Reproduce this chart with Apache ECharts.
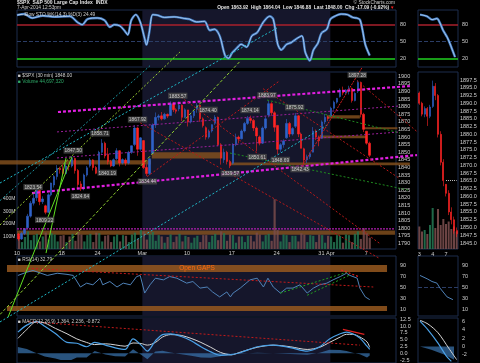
<!DOCTYPE html>
<html><head><meta charset="utf-8">
<script src="https://cdn.jsdelivr.net/npm/echarts@6/dist/echarts.min.js"></script>
<style>html,body{margin:0;padding:0;background:#000;}#c{width:480px;height:363px;}</style>
</head><body><div id="c"></div><script>
// ================= DATA =================
const tickDays  = [0, 5, 9, 14, 19, 24, 29, 34, 35, 39];
const tickTexts = ['10','18','24','Mar','10','17','24','31','Apr','7'];
const monthShade = [14, 35];               // March (trading-day index)

// 30-min-ish bars, 3 per trading day: [open, close, low, high]
const candles = [
[1796.2,1793.0,1791.8,1797.0],[1793.0,1796.5,1792.3,1797.5],[1796.5,1799.8,1795.5,1799.9],
[1800.4,1808.0,1799.6,1809.5],[1808.0,1816.5,1807.0,1818.0],[1816.5,1819.8,1815.0,1823.5],
[1820.1,1825.0,1818.0,1826.1],[1825.0,1817.5,1815.2,1825.5],[1817.5,1819.3,1816.0,1821.0],
[1814.8,1810.5,1809.2,1815.5],[1810.5,1822.0,1810.0,1823.0],[1822.0,1829.8,1821.0,1830.0],
[1828.5,1834.0,1826.8,1835.0],[1834.0,1839.5,1832.0,1841.6],[1839.5,1838.6,1836.0,1840.5],
[1839.0,1836.0,1835.0,1842.0],[1836.0,1841.0,1835.5,1842.9],[1841.0,1840.8,1838.0,1842.0],
[1841.0,1846.0,1840.0,1847.5],[1846.0,1838.0,1836.0,1846.5],[1838.0,1828.8,1826.5,1839.0],
[1829.2,1826.0,1824.6,1831.0],[1826.0,1835.0,1825.0,1836.0],[1835.0,1839.8,1834.0,1841.0],
[1841.1,1845.0,1840.0,1846.1],[1845.0,1840.0,1838.0,1845.5],[1840.0,1836.2,1835.6,1841.0],
[1836.8,1850.0,1836.6,1851.0],[1850.0,1856.0,1849.0,1858.7],[1856.0,1847.6,1846.0,1857.0],
[1848.7,1844.0,1842.0,1852.9],[1844.0,1841.0,1840.2,1845.0],[1841.0,1845.1,1840.5,1846.0],
[1845.8,1851.0,1845.0,1852.7],[1851.0,1843.0,1840.7,1851.5],[1843.0,1845.2,1842.0,1846.0],
[1844.9,1843.0,1841.1,1846.0],[1843.0,1850.0,1842.0,1851.0],[1850.0,1854.3,1849.0,1854.5],
[1855.1,1866.0,1854.0,1867.9],[1866.0,1852.0,1847.7,1866.5],[1852.0,1859.5,1851.0,1860.0],
[1857.7,1840.0,1839.0,1858.0],[1840.0,1836.0,1834.4,1842.0],[1836.0,1845.7,1835.0,1846.0],
[1849.2,1868.0,1849.0,1869.0],[1868.0,1873.0,1866.0,1876.2],[1873.0,1873.9,1871.0,1875.0],
[1874.0,1872.0,1871.0,1876.5],[1872.0,1875.0,1871.5,1876.0],[1875.0,1873.8,1872.5,1875.5],
[1874.2,1882.0,1874.0,1883.6],[1882.0,1878.0,1876.5,1883.0],[1878.0,1877.0,1875.5,1879.0],
[1878.5,1881.0,1877.0,1883.4],[1881.0,1873.0,1870.6,1881.5],[1873.0,1878.0,1872.5,1879.0],
[1877.9,1870.0,1867.0,1877.9],[1870.0,1874.0,1869.0,1875.0],[1874.0,1877.2,1872.5,1877.6],
[1878.3,1881.0,1876.0,1882.4],[1881.0,1872.0,1870.0,1881.5],[1872.0,1867.6,1866.3,1873.0],
[1866.2,1860.0,1858.3,1867.0],[1860.0,1864.0,1859.0,1865.0],[1864.0,1868.2,1863.0,1868.4],
[1869.1,1873.0,1868.0,1874.4],[1873.0,1855.0,1854.0,1873.5],[1855.0,1846.3,1841.9,1856.0],
[1845.1,1850.0,1843.0,1852.4],[1850.0,1844.0,1842.0,1851.0],[1844.0,1841.1,1839.6,1845.0],
[1842.8,1855.0,1842.0,1856.0],[1855.0,1860.0,1854.0,1862.3],[1860.0,1858.8,1856.0,1861.0],
[1858.9,1864.0,1858.5,1865.0],[1864.0,1869.0,1863.0,1870.0],[1869.0,1872.3,1868.0,1873.8],
[1872.3,1871.0,1869.0,1874.1],[1871.0,1866.0,1864.0,1872.0],[1866.0,1860.8,1850.6,1867.0],
[1860.1,1856.0,1854.6,1861.0],[1856.0,1866.0,1855.5,1867.0],[1866.0,1872.0,1865.0,1873.5],
[1874.5,1882.0,1873.0,1884.0],[1882.0,1876.0,1874.0,1883.0],[1876.0,1866.5,1863.5,1877.0],
[1867.7,1852.0,1848.7,1868.0],[1852.0,1855.0,1850.0,1856.0],[1855.0,1857.4,1853.0,1858.5],
[1859.5,1869.0,1858.9,1871.9],[1869.0,1862.0,1860.0,1870.0],[1862.0,1865.6,1861.0,1866.5],
[1867.1,1874.0,1866.0,1875.9],[1874.0,1862.0,1860.0,1874.5],[1862.0,1852.6,1852.6,1863.0],
[1852.3,1845.0,1842.4,1853.0],[1845.0,1847.0,1843.0,1848.5],[1847.0,1849.0,1845.5,1850.0],
[1850.1,1864.0,1850.0,1866.6],[1864.0,1860.0,1858.0,1865.0],[1860.0,1857.6,1854.0,1861.0],
[1859.2,1870.0,1859.0,1871.0],[1870.0,1873.0,1868.5,1875.2],[1873.0,1872.3,1870.5,1874.0],
[1873.9,1879.0,1873.5,1880.0],[1879.0,1883.0,1878.0,1884.0],[1883.0,1885.5,1882.0,1885.8],
[1886.6,1891.0,1886.0,1892.0],[1891.0,1889.0,1887.5,1893.2],[1889.0,1890.9,1888.0,1891.5],
[1891.4,1892.0,1888.0,1893.8],[1892.0,1884.0,1882.7,1892.5],[1884.0,1888.8,1883.5,1889.5],
[1890.2,1896.0,1889.0,1897.3],[1896.0,1875.0,1873.0,1896.5],[1875.0,1865.1,1863.3,1876.0],
[1863.9,1856.0,1855.0,1864.0],[1856.0,1848.0,1846.9,1857.0]
];
// volume per bar, millions
const volumes = [
105,55,95, 140,70,110, 120,60,100, 130,75,125, 115,60,105,
110,55,100, 120,65,135, 115,60,110, 120,55,130,
125,60,105, 110,55,100, 115,60,110, 105,55,115, 130,80,150,
140,75,120, 135,65,110, 100,50,95, 115,55,100, 120,60,105,
95,50,90, 105,55,110, 110,55,105, 120,70,140, 125,65,115,
110,50,100, 100,55,105, 105,60,130, 115,60,110, 120,65,395,
150,60,115, 110,55,105, 105,60,125, 115,55,110, 105,55,115,
110,50,105, 100,55,110, 105,50,115, 110,55,120, 140,80,165,
125,90
];
// Slow stochastic [trading day, value]
const stochPts = [[0.0,97],[0.8,99],[1.7,92],[2.9,96],[4.2,94],[5.9,95],[6.8,84],[7.3,80],[7.9,90],[9.0,92],[9.8,88],[10.4,76],[10.9,80],[11.5,78],[12.0,70],[12.4,62],[12.8,88],[13.3,98],[13.8,85],[14.3,55],[14.5,44],[14.8,65],[15.2,98],[15.7,97],[16.5,93],[17.6,94],[18.8,91],[19.3,90],[20.1,85],[21.0,86],[21.6,70],[22.1,72],[22.7,60],[23.3,25],[23.7,20],[24.1,30],[24.6,38],[25.1,45],[25.7,40],[26.3,60],[26.9,66],[27.6,85],[28.3,95],[28.7,90],[29.2,45],[29.6,35],[30.2,45],[30.7,48],[31.3,55],[31.9,60],[32.3,30],[32.8,16],[33.2,35],[33.7,47],[34.1,65],[34.7,72],[35.1,90],[35.7,96],[36.3,99],[37.0,98],[37.6,93],[38.0,92],[38.4,89],[38.7,70],[39.0,45],[39.5,25]];
// RSI(14) [trading day, value]
const rsiPts = [[0.1,71],[1.1,77],[1.8,80],[3.4,71],[4.5,75],[5.6,73],[6.3,71],[7.1,50],[7.8,57],[8.5,54],[9.3,66],[9.6,54],[10.4,60],[11.2,50],[11.9,57],[12.7,54],[13.4,69],[13.8,71],[14.3,39],[14.9,54],[15.5,66],[16.4,63],[17.1,69],[17.9,66],[19.0,57],[19.7,60],[20.5,48],[21.3,50],[21.9,41],[22.7,32],[23.5,41],[23.9,32],[24.2,39],[25.0,48],[26.1,63],[26.9,66],[27.6,50],[28.1,66],[28.7,50],[29.5,39],[30.2,48],[30.9,48],[31.7,54],[32.5,39],[33.2,48],[33.9,54],[34.7,57],[35.4,63],[36.2,69],[36.9,75],[37.3,71],[38.1,66],[38.4,48],[39.0,32],[39.5,27]];
// MACD(12,26,9)
const macdDays   = [0.1,1.1,2.2,3.1,4.3,5.6,6.7,7.8,8.7,9.9,11.0,12.1,13.0,13.9,14.6,15.5,16.3,17.2,18.4,19.5,20.6,21.7,22.8,24.0,25.0,26.9,28.7,30.6,32.5,33.9,35.0,36.2,36.9,37.6,38.4,39.2,39.5];
const macdLine   = [7.8,10.4,11.7,10.0,7.3,4.0,3.7,2.4,4.0,3.0,2.0,1.4,5.3,3.0,0.8,4.6,6.9,7.2,6.2,4.6,2.4,0.5,-0.8,-0.5,0.2,2.4,3.0,2.1,0.8,2.4,5.3,7.2,7.8,7.2,5.6,2.6,1.4];
const signalLine = [5.5,8.8,11.7,11.2,9.2,7.2,5.3,4.0,3.2,3.5,3.1,2.6,3.8,3.6,3.0,4.0,6.0,6.9,6.6,5.5,4.0,2.2,0.3,-0.6,0.4,2.2,3.0,2.4,1.4,2.2,4.0,6.0,7.0,7.0,6.0,4.2,2.2];

// Intraday mini chart (Apr 3 - Apr 7)
const miniTicks = ['3','4','7'];
const miniCandles = [
[1893.3,1890.0,1889.5,1893.8],[1890.0,1886.5,1885.8,1890.5],[1886.5,1888.3,1885.5,1889.0],[1888.3,1885.8,1882.7,1888.8],[1885.8,1888.8,1885.2,1889.5],
[1889.0,1895.5,1888.5,1897.3],[1895.5,1892.5,1891.0,1896.5],[1892.5,1880.0,1879.0,1893.0],[1880.0,1871.0,1870.0,1881.0],[1871.0,1865.1,1863.3,1872.0],
[1863.9,1861.0,1860.0,1864.0],[1861.0,1855.0,1854.0,1862.0],[1855.0,1852.5,1851.0,1856.5],[1852.5,1849.0,1848.0,1853.5],[1849.0,1848.0,1846.9,1850.0]
];
const miniVolumes = [45,35,38,30,48,82,42,80,48,60,50,55,40,45,35];
const miniPrevClose = 1865.09;
const miniStoch = [[0.75,98],[3.4,95],[5.25,89],[7.1,91],[8.25,83],[9.4,70],[10.9,58],[12,46],[13.9,22]];
const miniRsi   = [[0.75,71],[3.4,65],[5.25,60],[7.1,57],[8.25,48],[10.9,32],[13.1,27]];
const miniMacd  = [[0.75,6.1],[3.75,4.0],[7.5,0.8],[10.5,-2.2],[12.5,-3.6]];
const miniSignal= [[0.75,6.3],[3.75,5.4],[7.5,3.3],[11.5,-0.4],[14.5,-3.2]];
const miniHist  = [[0.75,0],[5,-0.8],[10,-2.0],[13.5,-3.2]];

// Annotated highs / lows: [day, price, text, a=above b=below]
const priceLabels = [
[1.8,1823.5,'1823.54','a'],[3.1,1809.2,'1809.22','b'],[6.3,1847.5,'1847.50','a'],[7.1,1824.6,'1824.64','b'],
[9.3,1858.7,'1858.71','a'],[10.1,1840.2,'1840.19','b'],[13.5,1867.9,'1867.92','a'],[14.6,1834.4,'1834.44','b'],
[18.0,1883.6,'1883.57','a'],[21.4,1874.4,'1874.40','a'],[23.9,1839.6,'1839.57','b'],[26.1,1874.1,'1874.14','a'],
[26.9,1850.6,'1850.61','b'],[28.0,1884.0,'1883.97','a'],[29.5,1848.7,'1848.69','b'],[31.1,1875.9,'1875.92','a'],
[31.7,1842.4,'1842.43','b'],[38.1,1897.3,'1897.28','a']
];
// Trend lines in (trading day, price)
const lnMagUpper  = [[4.59,1876.5],[44.0,1893.6]];
const lnMagLower  = [[1.68,1823.2],[44.8,1848.2]];
const lnMagMid1   = [[4.48,1863.4],[42.9,1880.5]];
const lnMagMid2   = [[4.48,1846.3],[42.9,1863.4]];
const lnMag1800   = [[0,1799.6],[42.33,1799.6]];
const lnLime1     = [[-1.904,1802.2],[18.25,1916.0]];
const lnLimeA     = [[-1.0,1741.6],[6.16,1847.0]];
const lnLimeB     = [[3.25,1783.7],[5.49,1846.2]];
const lnLimeC     = [[-1.904,1743.3],[24.97,1909.8]];
const lnCyan1     = [[-1.904,1829.8],[29.12,1931.8]];
const lnCyan2     = [[-1.904,1738.4],[34.72,1867.9]];
const lnCyan3     = [[-1.904,1818.2],[14.9,1907.0]];
const lnRedA      = [[13.78,1869.5],[40.65,1780.0]];
const lnRedB      = [[18.03,1887.8],[40.65,1789.9]];
const lnRedC      = [[27.55,1891.9],[42.9,1832.6]];
const lnRedD      = [[38.08,1897.2],[44.8,1863.6]];
const lnRedE      = [[14.56,1834.0],[29.45,1897.2]];
const lnRedF      = [[31.7,1838.6],[38.64,1905.7]];
const lnGreen1    = [[28.0,1884.4],[42.9,1862.7]];
const lnGreen2    = [[23.85,1849.5],[43.79,1825.2]];
// Gap zones [day1, price1, day2, price2]
const gapZones = [[-1.904,1842,15.0,1844.7],[23.85,1841.4,44.0,1843.3],[15.1,1846,23.0,1850],[34.7,1872.3,38.4,1874.3],[38.75,1865.1,42.6,1866.5],[33.9,1859.2,39.2,1861.1],[0,1795.8,42.33,1798.6]];
// RSI panel gap bands [day1, rsi1, day2, rsi2]
const rsiGapBands = [[-1.12,77.3,41.44,90],[-1.12,6.4,41.44,15.5]];
const rsiRedLine   = [[1.23,84],[39.9,50]];
const rsiGreen1    = [[29.5,39],[37.0,77]];
const rsiGreen2    = [[32.5,35],[37.3,72]];
const rsiRedShort  = [[36.3,81],[38.4,68]];
const macdRedLine  = [[1.23,11.7],[38.4,3.0]];
const macdRedShort = [[36.5,8.8],[38.9,7.0]];

// ================= LAYOUT / CHART =================
const W=480,H=363, X0=17, PW=378, NSLOT=127, SPAN=NSLOT/3, PXD=PW/SPAN;
const P_PX=1.52, P_REF=1900, Y_REF=76.3;
const FONT='"Liberation Sans", Arial, sans-serif';
const TXT='#cfcfcf', FRAME='#1d2c4c', SHADE='#15162b';
const grids=[], xA=[], yA=[], series=[];
function add(g,x,y){const i=grids.length;grids.push(g);x.gridIndex=i;y.gridIndex=i;xA.push(x);yA.push(y);return i;}
const hv=(min,max,extra)=>Object.assign({type:'value',show:false,min:min,max:max,splitLine:{show:false}},extra||{});
const lbl=(extra)=>Object.assign({color:TXT,fontSize:5.5,fontFamily:FONT},extra||{});
const slotCats=[...Array(NSLOT).keys()].map(String);

function frame(top,h,left,w,shade,xlabel){
  const gi=add({left:left,top:top,width:w,height:h,show:true,borderColor:FRAME,borderWidth:1,backgroundColor:'transparent'},
    hv(0,left===X0?SPAN:15,xlabel||{}), hv(0,1));
  series.push({type:'line',xAxisIndex:gi,yAxisIndex:gi,data:[[0,0.5]],symbol:'none',lineStyle:{width:0},silent:true,z:0,
    markArea: shade?{silent:true,itemStyle:{color:SHADE},data:[[{xAxis:monthShade[0]},{xAxis:monthShade[1]}]]}:undefined});
  return gi;
}
// --- frames
frame(10,57,X0,379,true);
frame(72,177,X0,379,true,{show:true,position:'bottom',interval:1,axisLine:{show:false},axisTick:{show:false},
   axisLabel:lbl({margin:1.5,formatter:v=>{const k=tickDays.indexOf(v);return k>=0?tickTexts[k]:'';}})});
frame(256,60,X0,379,true);
frame(318,50,X0,379,true);
frame(10,57,418,40,false);
frame(72,177,418,40,false);
frame(256,60,418,40,false);
frame(318,50,418,40,false);

// --- stochastic
const stG=add({left:X0,top:13.5,width:PW,height:56},hv(0,SPAN),
  {type:'value',position:'right',min:0,max:100,interval:10,splitLine:{show:false},axisLine:{show:false},axisTick:{show:false},
   axisLabel:lbl({margin:5,formatter:v=>(v===20||v===50||v===80)?v:''})});
const stochLines={symbol:'none',silent:true,label:{show:false},data:[
  {yAxis:80,lineStyle:{color:'#a8202c',width:1.5,type:'solid'}},
  {yAxis:50,lineStyle:{color:'#2b3d66',width:1,type:'dashed'}},
  {yAxis:20,lineStyle:{color:'#20d020',width:1.5,type:'solid'}}]};
series.push({type:'line',xAxisIndex:stG,yAxisIndex:stG,data:stochPts,symbol:'none',smooth:0.3,lineStyle:{color:'#3f78bf',width:2.4},z:5,markLine:stochLines});
series.push({type:'line',xAxisIndex:stG,yAxisIndex:stG,data:stochPts,symbol:'none',smooth:0.3,lineStyle:{color:'#cfe6ff',width:0.7},z:6});

// --- price candles
const pG=add({left:X0,top:Y_REF-5*P_PX,width:PW,height:120*P_PX},
  {type:'category',show:false,data:slotCats,boundaryGap:true},
  {type:'value',position:'right',min:1785,max:1905,interval:5,splitLine:{show:false},axisLine:{show:false},axisTick:{show:false},
   axisLabel:lbl({margin:3,formatter:v=>(v>=1790&&v<=1900)?v:''})});
series.push({type:'candlestick',xAxisIndex:pG,yAxisIndex:pG,data:candles,barWidth:2,z:4,
  itemStyle:{color:'#2f62c8',color0:'#ff2424',borderColor:'#2f62c8',borderColor0:'#ff2424',borderWidth:0.6}});

// --- volume
const vG=add({left:X0,top:189,width:PW,height:60},
  {type:'category',show:false,data:slotCats,boundaryGap:true},
  {type:'value',position:'left',min:0,max:476,interval:100,splitLine:{show:false},axisLine:{show:false},axisTick:{show:false},
   axisLabel:lbl({margin:2,fontSize:5,formatter:v=>(v>0&&v<=400)?v+'M':''})});
series.push({type:'bar',xAxisIndex:vG,yAxisIndex:vG,barWidth:2.2,z:2,
  data:volumes.map((v,i)=>({value:v,itemStyle:{color:candles[i][1]>=candles[i][0]?'rgba(35,115,80,0.85)':'rgba(120,75,75,0.85)'}}))});

// --- RSI
const rG=add({left:X0,top:259.5,width:PW,height:55},hv(0,SPAN),
  {type:'value',position:'right',min:0,max:100,interval:10,splitLine:{show:false},axisLine:{show:false},axisTick:{show:false},
   axisLabel:lbl({margin:5,formatter:v=>(v%20===10)?v:''})});
series.push({type:'line',xAxisIndex:rG,yAxisIndex:rG,data:rsiPts,symbol:'none',lineStyle:{color:'#4f82b8',width:1},z:5});
const rsiDash=(d,c,w)=>({type:'line',xAxisIndex:rG,yAxisIndex:rG,data:d,symbol:'none',silent:true,z:6,lineStyle:{color:c,width:w||1,type:[2,2]}});
series.push(rsiDash(rsiRedLine,'#c41a1a'),rsiDash(rsiGreen1,'#1fa01f'),rsiDash(rsiGreen2,'#1fa01f'),rsiDash(rsiRedShort,'#e02020',1.2));
// RSI full-width band overlay
const rbG=add({left:0,top:259.5,width:W,height:55},hv(-X0/PXD,(W-X0)/PXD),hv(0,100));
series.push({type:'line',xAxisIndex:rbG,yAxisIndex:rbG,data:[[0,50]],symbol:'none',lineStyle:{width:0},silent:true,z:1,
  markArea:{silent:true,itemStyle:{color:'rgba(150,88,30,0.85)'},
   data:rsiGapBands.map((b,i)=>[{coord:[b[0],b[1]],label:{show:i===0,position:'inside',formatter:'Open GAPS',color:'#ff6a10',fontSize:6.5,fontFamily:FONT}},{coord:[b[2],b[3]]}])}});

// --- MACD
const mG=add({left:X0,top:359.5-15*3.12,width:PW,height:17.5*3.12},hv(0,SPAN),
  {type:'value',position:'right',min:-2.5,max:15,interval:2.5,splitLine:{show:false},axisLine:{show:false},axisTick:{show:false},
   axisLabel:lbl({margin:5,formatter:v=>v<=12.5?v.toFixed(1):''})});
const histPts=macdDays.map((d,i)=>[d,+(macdLine[i]-signalLine[i]).toFixed(2)]);
series.push({type:'line',xAxisIndex:mG,yAxisIndex:mG,data:histPts,symbol:'none',lineStyle:{width:0},areaStyle:{color:'#3a76b2',origin:0},z:3});
series.push({type:'line',xAxisIndex:mG,yAxisIndex:mG,data:macdDays.map((d,i)=>[d,signalLine[i]]),symbol:'none',smooth:0.3,lineStyle:{color:'#d6d6d6',width:1},z:5});
series.push({type:'line',xAxisIndex:mG,yAxisIndex:mG,data:macdDays.map((d,i)=>[d,macdLine[i]]),symbol:'none',smooth:0.3,lineStyle:{color:'#4aa0e6',width:1.2},z:6});
series.push({type:'line',xAxisIndex:mG,yAxisIndex:mG,data:macdRedLine,symbol:'none',silent:true,z:7,lineStyle:{color:'#c41a1a',width:1,type:[2,2]}});
series.push({type:'line',xAxisIndex:mG,yAxisIndex:mG,data:macdRedShort,symbol:'none',silent:true,z:7,lineStyle:{color:'#e02020',width:1.2}});

// --- mini panels
const MINI=418, MW=40, MS=miniCandles.length;
const miniCats=[...Array(MS).keys()].map(String);
const msG=add({left:MINI,top:13.5,width:MW,height:56},hv(0,MS),
  {type:'value',position:'right',min:0,max:100,interval:10,splitLine:{show:false},axisLine:{show:false},axisTick:{show:false},
   axisLabel:lbl({margin:4,formatter:v=>(v===20||v===50||v===80)?v:''})});
series.push({type:'line',xAxisIndex:msG,yAxisIndex:msG,data:miniStoch,symbol:'none',smooth:0.3,lineStyle:{color:'#3f78bf',width:2.4},z:5,markLine:stochLines});
series.push({type:'line',xAxisIndex:msG,yAxisIndex:msG,data:miniStoch,symbol:'none',smooth:0.3,lineStyle:{color:'#cfe6ff',width:0.7},z:6});
const mpK=3.105;
const mpG=add({left:MINI,top:80-2.5*mpK,width:MW,height:57.5*mpK},
  {type:'category',data:miniCats,boundaryGap:true,axisLine:{show:false},axisTick:{show:false},
   axisLabel:lbl({margin:1,interval:0,formatter:(v,i)=>i===0?miniTicks[0]:i===5?miniTicks[1]:i===10?miniTicks[2]:''})},
  {type:'value',position:'right',min:1842.5,max:1900,interval:2.5,splitLine:{show:false},axisLine:{show:false},axisTick:{show:false},
   axisLabel:lbl({margin:2,formatter:v=>(v>=1845&&v<=1897.5)?v.toFixed(1):''})});
series.push({type:'candlestick',xAxisIndex:mpG,yAxisIndex:mpG,data:miniCandles,barWidth:1.6,z:4,
  itemStyle:{color:'#2f62c8',color0:'#ff2424',borderColor:'#2f62c8',borderColor0:'#ff2424',borderWidth:0.6},
  markLine:{symbol:'none',silent:true,label:{show:false},lineStyle:{color:'#bbbbbb',type:[1,1],width:1},
   data:[[{coord:['10',miniPrevClose]},{coord:[String(MS-1),miniPrevClose]}]]}});
const mvG=add({left:MINI,top:199,width:MW,height:50},{type:'category',show:false,data:miniCats,boundaryGap:true},hv(0,100));
series.push({type:'bar',xAxisIndex:mvG,yAxisIndex:mvG,barWidth:2,z:2,
  data:miniVolumes.map((v,i)=>({value:v,itemStyle:{color:miniCandles[i][1]>=miniCandles[i][0]?'rgba(35,115,80,0.9)':'rgba(120,75,75,0.9)'}}))});
const mrG=add({left:MINI,top:259.5,width:MW,height:55},hv(0,MS),
  {type:'value',position:'right',min:0,max:100,interval:10,splitLine:{show:false},axisLine:{show:false},axisTick:{show:false},
   axisLabel:lbl({margin:4,formatter:v=>(v%20===10)?v:''})});
series.push({type:'line',xAxisIndex:mrG,yAxisIndex:mrG,data:miniRsi,symbol:'none',lineStyle:{color:'#4f82b8',width:1},z:5,
  markLine:{symbol:'none',silent:true,label:{show:false},data:[{yAxis:50,lineStyle:{color:'#2b3d66',type:'dashed',width:1}}]}});
const mmK=4.375;
const mmG=add({left:MINI,top:348.25-8*mmK,width:MW,height:12*mmK},hv(0,MS),
  {type:'value',position:'right',min:-4,max:8,interval:2,splitLine:{show:false},axisLine:{show:false},axisTick:{show:false},
   axisLabel:lbl({margin:4,formatter:v=>(v>=-2&&v<=6)?v:''})});
series.push({type:'line',xAxisIndex:mmG,yAxisIndex:mmG,data:miniHist,symbol:'none',lineStyle:{width:0},areaStyle:{color:'#3a76b2',origin:0},z:3});
series.push({type:'line',xAxisIndex:mmG,yAxisIndex:mmG,data:miniSignal,symbol:'none',smooth:0.3,lineStyle:{color:'#d6d6d6',width:1},z:5});
series.push({type:'line',xAxisIndex:mmG,yAxisIndex:mmG,data:miniMacd,symbol:'none',smooth:0.3,lineStyle:{color:'#4aa0e6',width:1.2},z:6});

// --- full-canvas annotation overlay (trading day / price)
const oG=add({left:0,top:0,width:W,height:H},hv(-X0/PXD,(W-X0)/PXD),hv(P_REF-(H-Y_REF)/P_PX,P_REF+Y_REF/P_PX));
series.push({type:'line',xAxisIndex:oG,yAxisIndex:oG,data:[[0,1800]],symbol:'none',lineStyle:{width:0},silent:true,z:1,
  markArea:{silent:true,itemStyle:{color:'rgba(135,82,30,0.8)'},data:gapZones.map(b=>[{coord:[b[0],b[1]]},{coord:[b[2],b[3]]}])}});
const tl=(d,c,w,t,z)=>series.push({type:'line',xAxisIndex:oG,yAxisIndex:oG,data:d,symbol:'none',silent:true,z:z||7,lineStyle:{color:c,width:w,type:t}});
tl(lnMagUpper,'#e21fe2',2.2,[3,2]); tl(lnMagLower,'#e21fe2',2.2,[3,2]);
tl(lnMagMid1,'#9a1f9a',1,[2,2]); tl(lnMagMid2,'#9a1f9a',1,[2,2]); tl(lnMag1800,'#b01fb0',1.2,[2,1]);
tl(lnLime1,'#9acd32',1,[2,2]); tl(lnLimeA,'#60e020',1,'solid'); tl(lnLimeB,'#60e020',1,'solid'); tl(lnLimeC,'#8fd030',1,[3,2]);
tl(lnCyan1,'#1fb8c8',1,[2,2]); tl(lnCyan2,'#1fb8c8',1,[2,2]); tl(lnCyan3,'#1a8f9a',1,[2,2]);
tl(lnRedA,'#b81818',1,[2,2]); tl(lnRedB,'#b81818',1,[2,2]); tl(lnRedC,'#b81818',1,[2,2]);
tl(lnRedD,'#b81818',1,[2,2]); tl(lnRedE,'#c01818',1,[2,2]); tl(lnRedF,'#d01c1c',1,[2,1]);
tl(lnGreen1,'#1f8a1f',1,[2,2]); tl(lnGreen2,'#1f8a1f',1,[2,2]);
series.push({type:'scatter',xAxisIndex:oG,yAxisIndex:oG,symbolSize:1,itemStyle:{color:'rgba(0,0,0,0)'},silent:true,z:9,
  data:priceLabels.map(l=>({value:[l[0],l[1]],name:l[2],label:{position:l[3]==='a'?'top':'bottom'}})),
  label:{show:true,formatter:'{b}',distance:2,color:'#e8e8e8',backgroundColor:'#4a4a4a',fontSize:4.8,fontFamily:FONT,padding:[1,1,0,1]}});

// --- texts
const T=(x,y,text,fill,size,weight,align)=>({type:'text',x:x,y:y,silent:true,z:20,style:{text:text,fill:fill||TXT,font:(weight||'normal')+' '+(size||5.5)+'px '+FONT,textAlign:align||'left',textVerticalAlign:'top',verticalAlign:'top'}});
const graphic=[
  T(17,0,'$SPX  S&P 500 Large Cap Index  INDX','#e0e0e0',5,'bold'),
  T(17,5.2,'7-Apr-2014 12:53pm','#cfcfcf',4.8),
  T(395,0,'\u00A9 StockCharts.com','#cfcfcf',4.8,'normal','right'),
  T(389,5.2,'Open 1863.92  High 1864.04  Low 1846.88  Last 1848.00  Chg -17.09 (-0.92%)','#e6e6e6',4.8,'bold','right'),
  T(390,5.4,'\u25BC','#ff2020',4.5),
  T(18,11.8,'\u2014 Slow STO %K(14,3) %D(3) 24.49','#cfcfcf',4.8),
  T(18,73.5,'\u25A0 $SPX (30 min) 1848.00','#cfcfcf',4.8),
  T(18,78.8,'\u25A0 Volume 44,697,320','#2fae6a',4.8),
  T(18,257.5,'\u25A0 RSI(14) 32.79','#cfcfcf',4.8),
  T(18,319.5,'\u25A0 MACD(12,26,9) 1.364, 2.236, -0.872','#cfcfcf',4.8)
];

const chart=echarts.init(document.getElementById('c'),null,{renderer:'canvas',width:W,height:H});
chart.setOption({backgroundColor:'#000',animation:false,grid:grids,xAxis:xA,yAxis:yA,series:series,graphic:graphic});
</script></body></html>
